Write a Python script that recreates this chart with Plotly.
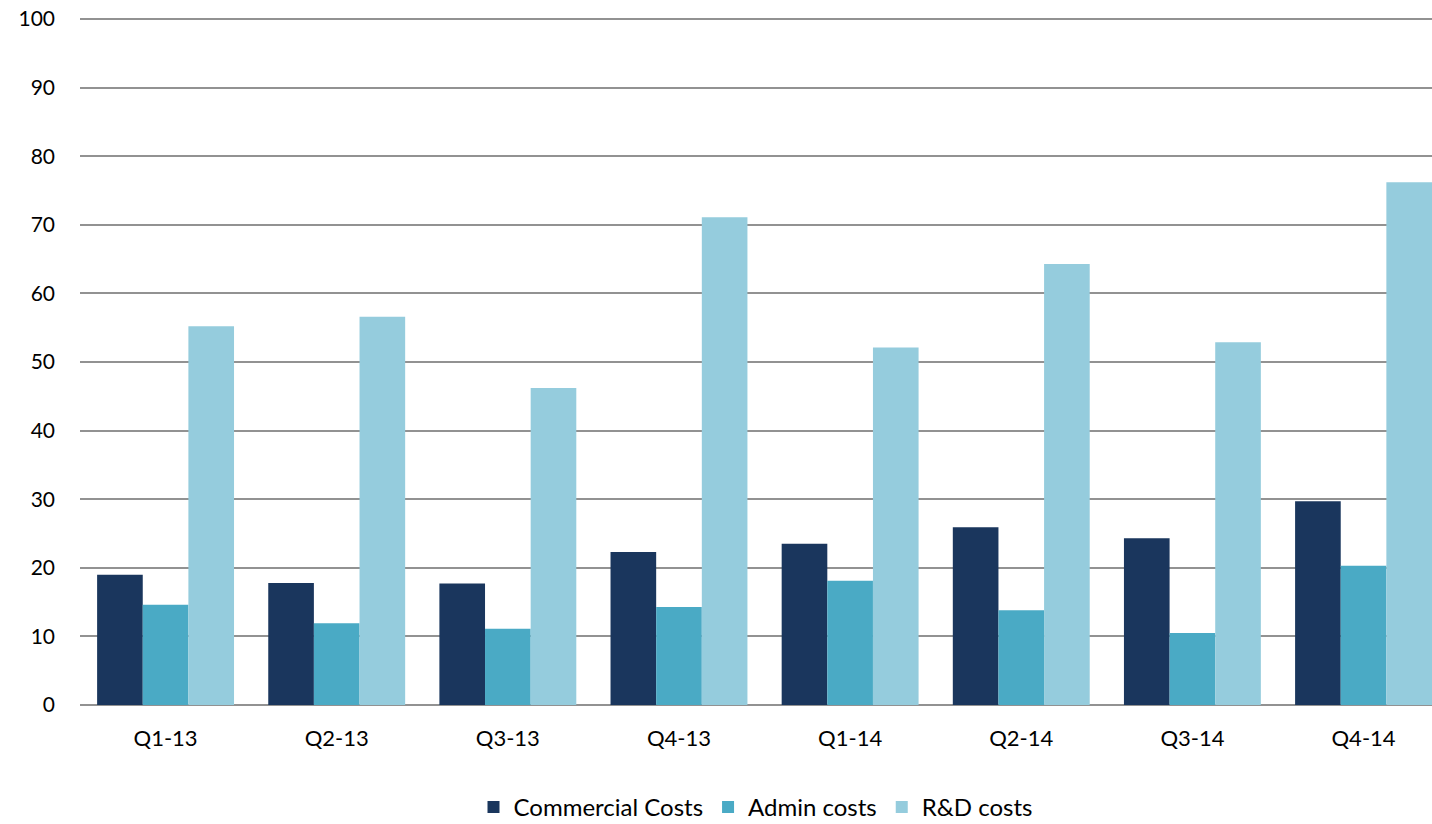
import plotly.graph_objects as go

quarters = ["Q1-13", "Q2-13", "Q3-13", "Q4-13", "Q1-14", "Q2-14", "Q3-14", "Q4-14"]
commercial_costs = [19.0, 17.8, 17.7, 22.3, 23.5, 25.9, 24.3, 29.7]
admin_costs = [14.6, 11.9, 11.1, 14.3, 18.1, 13.8, 10.5, 20.3]
rd_costs = [55.2, 56.6, 46.2, 71.1, 52.1, 64.3, 52.9, 76.2]

series = [
    ("Commercial Costs", commercial_costs, "#1a365d"),
    ("Admin costs", admin_costs, "#4aaac5"),
    ("R&D costs", rd_costs, "#95ccdd"),
]

fig = go.Figure()
for name, vals, color in series:
    fig.add_trace(go.Bar(
        x=quarters, y=vals, name=name,
        marker=dict(color=color, line=dict(width=0)),
    ))

font_family = "Lato, 'Open Sans', sans-serif"
fig.update_layout(
    width=1432, height=824,
    margin=dict(l=80, r=0, t=17, b=119, autoexpand=False),
    paper_bgcolor="white", plot_bgcolor="white",
    barmode="group", bargap=0.2, bargroupgap=0,
    font=dict(family=font_family, size=22, color="#000000"),
    showlegend=True,
    legend=dict(
        orientation="h", x=0.5, xanchor="center",
        yref="container", y=0.02, yanchor="middle",
        font=dict(size=24), itemwidth=30, traceorder="normal",
    ),
    xaxis=dict(
        range=[-0.5, 7.4], automargin=False,
        showgrid=False, showline=False, ticks="",
        tickfont=dict(size=22), ticklabelstandoff=18,
    ),
    yaxis=dict(
        range=[0, 100.3], tickvals=list(range(0, 101, 10)), automargin=False,
        showgrid=True, gridcolor="#929292", gridwidth=2,
        zeroline=True, zerolinecolor="#929292", zerolinewidth=2,
        showline=False, ticks="", tickfont=dict(size=21), ticklabelstandoff=24,
    ),
)

fig.write_html("out.html")
